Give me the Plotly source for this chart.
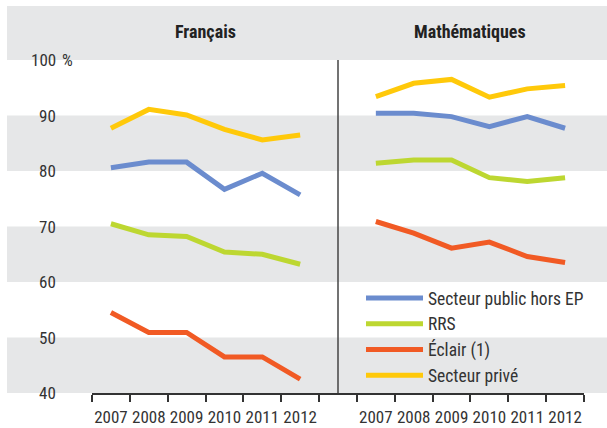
import plotly.graph_objects as go

years = ["2007", "2008", "2009", "2010", "2011", "2012"]
subjects = ["Français", "Mathématiques"]
series_names = ["Secteur public hors EP", "RRS", "Éclair (1)", "Secteur privé"]
series_colors = ["#6b8cce", "#bdd731", "#f15a24", "#ffc90a"]

fr_public = [80.6, 81.6, 81.6, 76.7, 79.6, 75.7]
fr_rrs = [70.5, 68.5, 68.2, 65.4, 65.0, 63.2]
fr_eclair = [54.5, 50.9, 50.9, 46.5, 46.5, 42.5]
fr_prive = [87.7, 91.1, 90.1, 87.5, 85.6, 86.5]

ma_public = [90.4, 90.4, 89.8, 88.0, 89.8, 87.7]
ma_rrs = [81.4, 82.0, 82.0, 78.8, 78.1, 78.8]
ma_eclair = [70.9, 68.8, 66.1, 67.2, 64.6, 63.5]
ma_prive = [93.4, 95.8, 96.5, 93.3, 94.8, 95.4]

y_ticks = [40, 50, 60, 70, 80, 90, 100]
y_ticklabels = ["40", "50", "60", "70", "80", "90", "100"]

FONT = "Liberation Sans Narrow, Roboto Condensed, DejaVu Sans Condensed, Roboto, sans-serif"
TXT = "#333333"

panels = [
    (subjects[0], [fr_public, fr_rrs, fr_eclair, fr_prive], 0),
    (subjects[1], [ma_public, ma_rrs, ma_eclair, ma_prive], len(years) + 1),
]

fig = go.Figure()
for p, (subj, data, offset) in enumerate(panels):
    xs = [offset + i for i in range(len(years))]
    for name, vals, col in zip(series_names, data, series_colors):
        fig.add_trace(go.Scatter(
            x=xs, y=vals, mode="lines", name=name,
            line=dict(color=col, width=5),
            legendgroup=name, showlegend=(p == 0),
            hoverinfo="skip",
        ))

tickvals = []
ticktext = []
for subj, data, offset in panels:
    for i, yr in enumerate(years):
        tickvals.append(offset + i)
        ticktext.append(yr)

n_slots = 2 * len(years) + 1
shapes = []
# header band
shapes.append(dict(type="rect", xref="paper", yref="paper", x0=0, x1=1, y0=1, y1=1 + 54 / 333,
                   fillcolor="#e6e7e8", line=dict(width=0), layer="below"))
# alternating bands
for lo in [40, 60, 80]:
    shapes.append(dict(type="rect", xref="paper", yref="y", x0=0, x1=1, y0=lo, y1=lo + 10,
                       fillcolor="#e6e7e8", line=dict(width=0), layer="below"))
# separator
shapes.append(dict(type="line", xref="x", yref="y", x0=len(years), x1=len(years), y0=40, y1=100,
                   line=dict(color="#444444", width=1.5)))

def px_x(px):
    return (px - 7) / 600

annotations = []
for v, t in zip(y_ticks, y_ticklabels):
    annotations.append(dict(x=px_x(58), xref="paper", y=v, yref="y", text=t, showarrow=False,
                            xanchor="right", yanchor="middle",
                            font=dict(family=FONT, size=17, color=TXT)))
annotations.append(dict(x=px_x(60), xref="paper", y=100, yref="y", text="%", showarrow=False,
                        xanchor="left", yanchor="middle",
                        font=dict(family=FONT, size=17, color=TXT)))
for subj, data, offset in panels:
    annotations.append(dict(x=offset + (len(years) - 1) / 2, xref="x", y=1 + 28 / 333, yref="paper",
                            text="<b>" + subj + "</b>", showarrow=False,
                            xanchor="center", yanchor="middle",
                            font=dict(family=FONT, size=18, color="#222222")))

fig.update_layout(
    width=607, height=428,
    margin=dict(l=7, r=0, t=60, b=35),
    paper_bgcolor="white", plot_bgcolor="rgba(0,0,0,0)",
    font=dict(family=FONT, size=16, color=TXT),
    xaxis=dict(
        domain=[px_x(92), px_x(584)],
        range=[-0.5, n_slots - 0.5],
        tickmode="array", tickvals=tickvals, ticktext=ticktext,
        ticks="", showgrid=False, zeroline=False,
        showline=True, linecolor="#333333", linewidth=1.5,
        tickfont=dict(family=FONT, size=17, color=TXT),
        ticklabelstandoff=8,
        minor=dict(tickmode="linear", tick0=-0.5, dtick=1, ticks="outside", ticklen=7,
                   tickcolor="#333333", tickwidth=1.5, showgrid=False),
        fixedrange=True,
    ),
    yaxis=dict(range=[40, 100], showticklabels=False, showgrid=False, zeroline=False,
               ticks="", showline=False, fixedrange=True),
    shapes=shapes,
    annotations=annotations,
    legend=dict(x=px_x(361), xanchor="left", y=(393 - 280) / 333, yanchor="top",
                bgcolor="rgba(0,0,0,0)", itemwidth=57,
                font=dict(family=FONT, size=17.5, color=TXT), tracegroupgap=0),
    showlegend=True,
)

fig.write_html("out.html", config={"displayModeBar": False},
               post_script="document.body.style.margin='0';")
